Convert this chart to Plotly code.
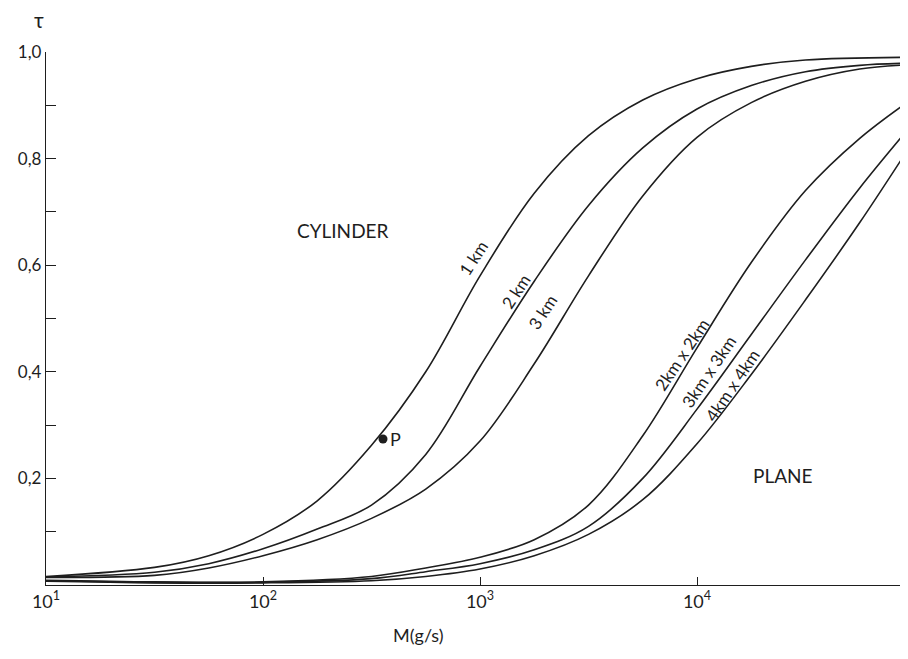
import numpy as np
import plotly.graph_objects as go

# ---- data (log10 of M in g/s, tau) ----
cyl1_logM = [1.0, 1.5, 1.75, 2.0, 2.25, 2.5, 2.75, 3.0, 3.25, 3.5, 3.75, 4.0, 4.25, 4.5, 4.97]
cyl1_tau  = [0.016, 0.033, 0.055, 0.095, 0.158, 0.262, 0.400, 0.580, 0.735, 0.843, 0.910, 0.950, 0.973, 0.985, 0.990]

cyl2_logM = [1.0, 1.5, 1.75, 2.0, 2.25, 2.5, 2.75, 3.0, 3.25, 3.5, 3.75, 4.0, 4.25, 4.5, 4.75, 4.97]
cyl2_tau  = [0.015, 0.024, 0.040, 0.068, 0.105, 0.150, 0.245, 0.410, 0.570, 0.712, 0.820, 0.893, 0.937, 0.963, 0.975, 0.979]

cyl3_logM = [1.0, 1.5, 1.75, 2.0, 2.25, 2.5, 2.75, 3.0, 3.25, 3.5, 3.75, 4.0, 4.25, 4.5, 4.75, 4.97]
cyl3_tau  = [0.014, 0.018, 0.032, 0.055, 0.085, 0.125, 0.180, 0.270, 0.415, 0.580, 0.730, 0.840, 0.905, 0.945, 0.968, 0.976]

pl2_logM = [1.0, 1.5, 2.0, 2.5, 2.75, 3.0, 3.25, 3.5, 3.75, 4.0, 4.25, 4.5, 4.75, 4.97]
pl2_tau  = [0.009, 0.006, 0.006, 0.016, 0.032, 0.052, 0.085, 0.150, 0.280, 0.445, 0.605, 0.740, 0.838, 0.906]

pl3_logM = [1.0, 1.5, 2.0, 2.5, 2.75, 3.0, 3.25, 3.5, 3.75, 4.0, 4.25, 4.5, 4.75, 4.97]
pl3_tau  = [0.008, 0.005, 0.005, 0.012, 0.025, 0.040, 0.066, 0.110, 0.200, 0.330, 0.470, 0.610, 0.745, 0.854]

pl4_logM = [1.0, 1.5, 2.0, 2.5, 2.75, 3.0, 3.25, 3.5, 3.75, 4.0, 4.25, 4.5, 4.75, 4.97]
pl4_tau  = [0.007, 0.004, 0.004, 0.008, 0.016, 0.030, 0.055, 0.095, 0.160, 0.265, 0.395, 0.535, 0.680, 0.816]

point_P = (2.553, 0.274)

y_tickvals = [0.0, 0.1, 0.2, 0.3, 0.4, 0.5, 0.6, 0.7, 0.8, 0.9, 1.0]
y_ticktext = ["", "", "0,2", "", "0,4", "", "0,6", "", "0,8", "", "1,0"]
x_tickvals = [10, 100, 1000, 10000]
x_ticktext = ["10<sup>1</sup>", "10<sup>2</sup>", "10<sup>3</sup>", "10<sup>4</sup>"]

curve_labels = [
    ("1 km", 2.972, 0.614, -57),
    ("2 km", 3.166, 0.550, -57),
    ("3 km", 3.286, 0.512, -57),
    ("2km x 2km", 3.931, 0.432, -56),
    ("3km x 3km", 4.055, 0.400, -56),
    ("4km x 4km", 4.161, 0.375, -56),
]

FONT = "Lato"
INK = "#1e1e1e"

fig = go.Figure()
for lg, tau in [(cyl1_logM, cyl1_tau), (cyl2_logM, cyl2_tau), (cyl3_logM, cyl3_tau),
                (pl2_logM, pl2_tau), (pl3_logM, pl3_tau), (pl4_logM, pl4_tau)]:
    fig.add_trace(go.Scatter(x=10 ** np.array(lg), y=tau, mode="lines",
                             line=dict(color=INK, width=1.6, shape="spline", smoothing=1.0),
                             hoverinfo="skip", showlegend=False))

fig.add_trace(go.Scatter(x=[10 ** point_P[0]], y=[point_P[1]], mode="markers",
                         marker=dict(color=INK, size=9), showlegend=False, hoverinfo="skip"))

for txt, lx, ly, ang in curve_labels:
    fig.add_annotation(x=lx, y=ly, xref="x", yref="y", text=txt, showarrow=False,
                       textangle=ang, font=dict(family=FONT, size=17, color=INK))

fig.add_annotation(x=point_P[0], y=point_P[1], xref="x", yref="y", text="P", showarrow=False,
                   xanchor="left", xshift=5, font=dict(family=FONT, size=18, color=INK))
fig.add_annotation(x=2.369, y=0.666, xref="x", yref="y", text="CYLINDER", showarrow=False,
                   font=dict(family=FONT, size=19, color=INK))
fig.add_annotation(x=4.396, y=0.206, xref="x", yref="y", text="PLANE", showarrow=False,
                   font=dict(family=FONT, size=19, color=INK))
fig.add_annotation(x=-0.016, y=1.088, xref="paper", yref="paper", text="τ", showarrow=False,
                   font=dict(family=FONT, size=21, color=INK))
fig.add_annotation(x=0.4316, y=-0.118, xref="paper", yref="paper", text="M(g/s)", showarrow=False,
                   font=dict(family=FONT, size=18, color=INK))

fig.update_xaxes(type="log", range=[1, 1 + 862 / 217], showline=True, linecolor=INK, linewidth=1.4,
                 ticks="inside", ticklen=8, tickwidth=1.2, tickcolor=INK,
                 tickvals=x_tickvals, ticktext=x_ticktext, showgrid=False, zeroline=False,
                 tickfont=dict(family=FONT, size=18, color=INK))
fig.update_yaxes(range=[0, 1.0], showline=True, linecolor=INK, linewidth=1.4,
                 ticks="inside", ticklen=10, tickwidth=1.2, tickcolor=INK,
                 tickvals=y_tickvals, ticktext=y_ticktext, showgrid=False, zeroline=False,
                 tickfont=dict(family=FONT, size=17, color=INK))

# page body adds an 8 px offset, so the figure is sized to sit where the reference axes are
fig.update_layout(width=900, height=651, margin=dict(l=38, r=0, t=44, b=74),
                  paper_bgcolor="white", plot_bgcolor="white", showlegend=False)

fig.write_html("out.html")
